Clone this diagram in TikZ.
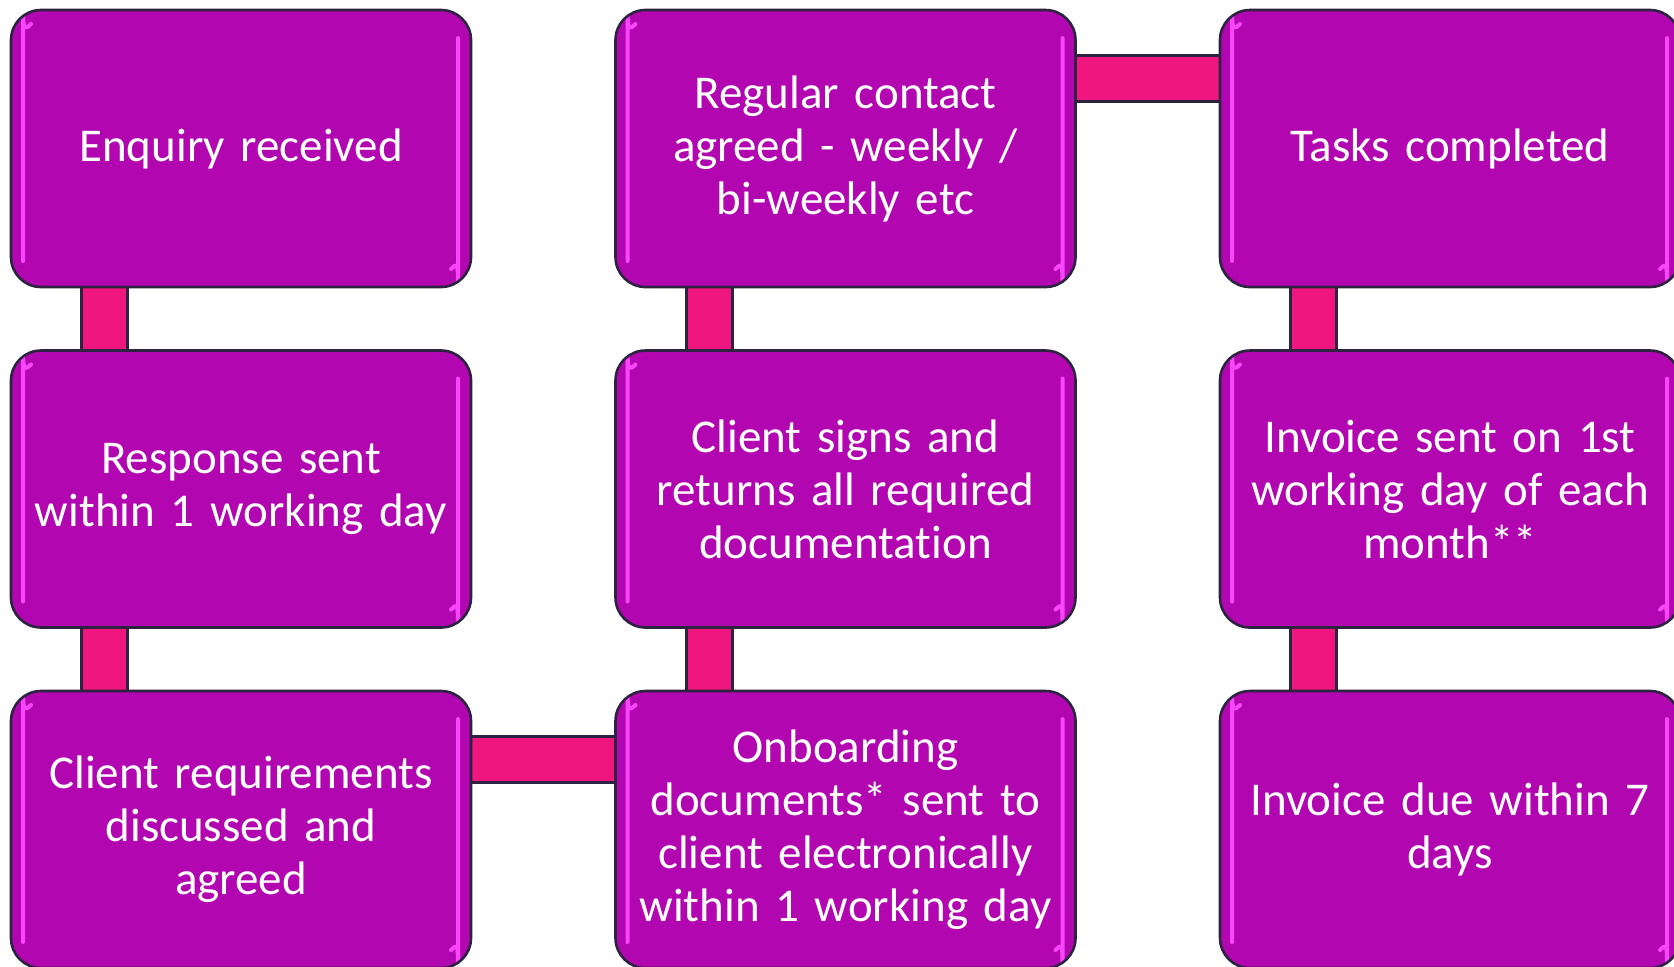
\documentclass[tikz,border=0pt]{standalone}
\usepackage{fontspec}
\setmainfont{Carlito}[Ligatures=NoCommon]
\usepackage{tikz}
\usetikzlibrary{positioning,backgrounds}
\definecolor{boxpurple}{RGB}{178,7,176}
\definecolor{linkpink}{RGB}{239,22,128}
\definecolor{edgedark}{RGB}{45,35,65}
\definecolor{shine}{RGB}{250,70,250}

\begin{document}
\begin{tikzpicture}[x=0.5pt,y=-0.5pt]
    \tikzstyle{every node}+=[inner sep=0pt]
    \tikzstyle{hl}=[shine, line width=2pt, line cap=round]
    \tikzstyle{stage}=[rectangle, rounded corners=15pt, fill=boxpurple, draw=edgedark,
        line width=1.3pt, minimum width=230pt, minimum height=138.5pt,
        text=white, align=center, text width=222pt,
        font=\fontsize{23.5}{26.5}\selectfont,
        path picture={
            \draw[hl] ([xshift=10pt,yshift=-7pt]path picture bounding box.north west)
                to[out=220,in=90] ([xshift=6pt,yshift=-15pt]path picture bounding box.north west)
                -- ([xshift=6pt,yshift=13pt]path picture bounding box.south west);
            \draw[hl] ([xshift=-6.5pt,yshift=-14pt]path picture bounding box.north east)
                -- ([xshift=-6.5pt,yshift=17pt]path picture bounding box.south east)
                to[out=-90,in=40] ([xshift=-10pt,yshift=9pt]path picture bounding box.south east);
        }]
    \tikzstyle{link}=[fill=linkpink, draw=edgedark, line width=1.3pt]
    \useasboundingbox (0,0) rectangle (1674,966);

    \node[stage] (enquiry) at (241,148.5) {Enquiry received};
    \node[stage] (response) at (241,489) {Response sent\\within 1 working day};
    \node[stage] (needs) at (241,829.5) {Client requirements\\discussed and\\agreed};
    \node[stage] (onboard) at (845.5,829.5) {Onboarding\\documents* sent to\\client electronically\\within 1 working day};
    \node[stage] (signs) at (845.5,489) {Client signs and\\returns all required\\documentation};
    \node[stage] (contact) at (845.5,148.5) {Regular contact\\agreed - weekly /\\bi-weekly etc};
    \node[stage] (tasks) at (1450,148.5) {Tasks completed};
    \node[stage] (invoice) at (1450,489) {Invoice sent on 1st\\working day of each\\month**};
    \node[stage] (due) at (1450,829.5) {Invoice due within 7\\days};

    \begin{scope}[on background layer]
        \foreach \a/\b in {enquiry/response, response/needs, signs/onboard, contact/signs,
                           tasks/invoice, invoice/due}
            \draw[link] ([xshift=36pt,yshift=6pt]\a.south west) rectangle ([xshift=59pt,yshift=-6pt]\b.north west);
        \foreach \a/\b in {needs/onboard, contact/tasks}
            \draw[link] ([xshift=-6pt,yshift=-23.5pt]\a.north east) rectangle ([xshift=6pt,yshift=-46.5pt]\b.north west);
    \end{scope}
\end{tikzpicture}
\end{document}
